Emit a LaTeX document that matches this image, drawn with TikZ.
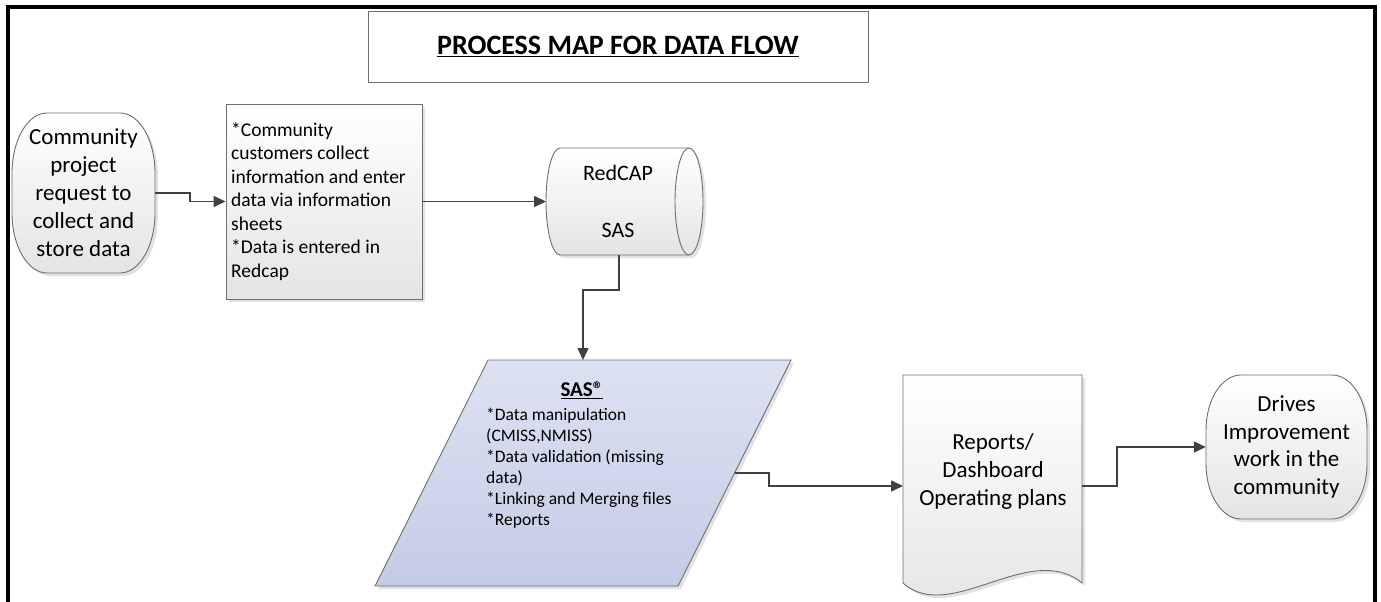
\documentclass[tikz,border=0pt]{standalone}
\usepackage{fontspec}
\setmainfont{Carlito}
\usetikzlibrary{arrows.meta}
\definecolor{lnc}{HTML}{404040}
\definecolor{edgec}{HTML}{6E6E6E}
\definecolor{shd}{HTML}{E2E2E2}
\definecolor{ptop}{HTML}{DDE2F2}
\definecolor{pbot}{HTML}{C4CBE5}
\definecolor{gbot}{HTML}{E4E4E4}
\begin{document}
\begin{tikzpicture}[x=1pt,y=-1pt,
  conn/.style={draw=lnc, line width=1.5pt, -{Triangle[length=12pt,width=11pt]}},
  shadowed/.style={preaction={fill=shd, transform canvas={shift={(3,3)}}}},
  shp/.style={draw=edgec, line width=0.9pt, top color=white, bottom color=gbot, shadowed},
  pshp/.style={draw=edgec, line width=0.9pt, top color=ptop, bottom color=pbot, shadowed},
  txt/.style={inner sep=0pt, align=center},
  frame/.style={draw=black, line width=4pt}
]
\useasboundingbox (0,0) rectangle (1381,602);
% outer frame
\draw[frame] (8,602) -- (8,7) -- (1375,7) -- (1375,602);

% title
\node[draw=edgec, line width=0.9pt, minimum width=500pt, minimum height=71pt, inner sep=0pt,
      font=\fontsize{28}{32}\selectfont\bfseries] (title) at (618,46.5)
      {\underline{PROCESS MAP FOR DATA FLOW}};

% start terminator
\path[shp] (47,113) -- (120,113) .. controls (139.3,113) and (155,139.9) .. (155,173)
  -- (155,213) .. controls (155,246.1) and (139.3,273) .. (120,273)
  -- (47,273) .. controls (27.7,273) and (12,246.1) .. (12,213)
  -- (12,173) .. controls (12,139.9) and (27.7,113) .. (47,113) -- cycle;
\node[txt, minimum width=143pt, minimum height=160pt, font=\fontsize{23}{28}\selectfont] (start) at (83.5,193)
  {Community\\project\\request to\\collect and\\store data};

% process box
\node[shp, minimum width=196pt, minimum height=195pt, inner sep=0pt] (collect) at (324,201.5) {};
\node[inner sep=0pt, anchor=west, align=left, font=\fontsize{19.5}{23.5}\selectfont] (collecttxt) at (231,201.5)
  {{*}Community\\customers collect\\information and enter\\data via information\\sheets\\{*}Data is entered in\\Redcap};

% cylinder (stored data)
\path[shp] (560,148) -- (689,148)
  .. controls (696.7,148) and (703,172) .. (703,201.5)
  .. controls (703,231) and (696.7,255) .. (689,255)
  -- (560,255)
  .. controls (552.3,255) and (546,231) .. (546,201.5)
  .. controls (546,172) and (552.3,148) .. (560,148) -- cycle;
\draw[edgec, line width=0.9pt] (689,148)
  .. controls (681.3,148) and (675,172) .. (675,201.5)
  .. controls (675,231) and (681.3,255) .. (689,255);
\node[txt, font=\fontsize{22}{57}\selectfont] (store) at (618,201) {RedCAP\\SAS};
\coordinate (storeW) at (546,201.5);
\coordinate (storeS) at (619,255);

% parallelogram (SAS)
\path[pshp] (488,360) -- (791,360) -- (678,586) -- (375,586) -- cycle;
\coordinate (sasN) at (583,360);
\coordinate (sasE) at (734.5,473);
\node[txt, font=\fontsize{21}{24}\selectfont\bfseries] (sashead) at (582,390) {\underline{SAS®}};
\node[inner sep=0pt, align=left, anchor=west, font=\fontsize{17.5}{21}\selectfont] (sas) at (486,468.5)
  {{*}Data manipulation\\(CMISS,NMISS)\\{*}Data validation (missing\\data)\\{*}Linking and Merging files\\{*}Reports};

% document
\path[shp] (903,375) -- (1082,375) -- (1082,583)
  .. controls (1030,540) and (950,625) .. (903,583) -- cycle;
\node[txt, font=\fontsize{23}{28}\selectfont] (reports) at (993,471) {Reports/\\Dashboard\\Operating plans};
\coordinate (repW) at (903,486);
\coordinate (repE) at (1082,486);

% end terminator
\path[shp] (1241,375) -- (1332,375) .. controls (1351.3,375) and (1367,399.6) .. (1367,430)
  -- (1367,464) .. controls (1367,494.4) and (1351.3,519) .. (1332,519)
  -- (1241,519) .. controls (1221.7,519) and (1206,494.4) .. (1206,464)
  -- (1206,430) .. controls (1206,399.6) and (1221.7,375) .. (1241,375) -- cycle;
\node[txt, minimum width=161pt, minimum height=144pt, font=\fontsize{23}{27.5}\selectfont] (drives) at (1286.5,447)
  {Drives\\Improvement\\work in the\\community};

% connectors
\draw[conn] (start.east) -- ++(35,0) |- (collect.west);
\draw[conn] (collect.east) -- (storeW);
\draw[conn] (storeS) -- ++(0,35) -| (sasN);
\draw[conn] (sasE) -- ++(34.5,0) |- (repW);
\draw[conn] (repE) -- ++(35,0) |- (drives.west);
\end{tikzpicture}
\end{document}
